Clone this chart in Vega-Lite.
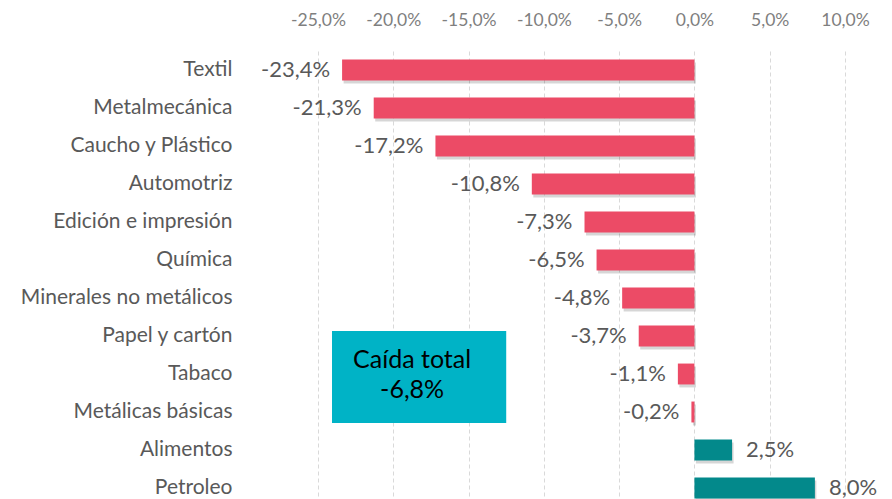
{
  "$schema": "https://vega.github.io/schema/vega-lite/v6.json",
  "width": 527,
  "height": 456,
  "autosize": {"type": "none"},
  "padding": {"left": 318, "top": 51, "right": 47, "bottom": 0},
  "background": "white",
  "config": {
    "locale": {"number": {"decimal": ",", "thousands": ".", "grouping": [3], "currency": ["", " €"], "minus": "-"}},
    "view": {"stroke": null},
    "font": "Lato"
  },
  "datasets": {
    "sectores": [
      {"sector": "Textil", "valor": -0.234},
      {"sector": "Metalmecánica", "valor": -0.213},
      {"sector": "Caucho y Plástico", "valor": -0.172},
      {"sector": "Automotriz", "valor": -0.108},
      {"sector": "Edición e impresión", "valor": -0.073},
      {"sector": "Química", "valor": -0.065},
      {"sector": "Minerales no metálicos", "valor": -0.048},
      {"sector": "Papel y cartón", "valor": -0.037},
      {"sector": "Tabaco", "valor": -0.011},
      {"sector": "Metálicas básicas", "valor": -0.002},
      {"sector": "Alimentos", "valor": 0.025},
      {"sector": "Petroleo", "valor": 0.08}
    ],
    "nota": [{"titulo": "Caída total", "total": -0.068}]
  },
  "layer": [
    {
      "data": {"name": "sectores"},
      "mark": {"type": "bar", "color": "#000000", "opacity": 0.16, "yOffset": 3, "xOffset": 1.5},
      "encoding": {
        "y": {
          "field": "sector", "type": "nominal", "sort": null,
          "scale": {"paddingInner": 0.45, "paddingOuter": 0.225},
          "axis": {"title": null, "domain": false, "ticks": false, "grid": false, "labelPadding": 86, "labelFontSize": 21, "labelLimit": 400, "labelColor": "#595959"}
        },
        "x": {
          "field": "valor", "type": "quantitative",
          "scale": {"domain": [-0.25, 0.1], "nice": false, "zero": false},
          "axis": {"orient": "top", "title": null, "format": ".1%", "values": [-0.25, -0.2, -0.15, -0.1, -0.05, 0, 0.05, 0.1], "labelOverlap": false, "labelFlush": false, "grid": true, "gridDash": [4, 3], "gridColor": "#d9d9d9", "domain": false, "ticks": false, "labelFontSize": 17.5, "labelColor": "#7f7f7f", "labelPadding": 22}
        }
      }
    },
    {
      "data": {"name": "sectores"},
      "mark": {"type": "bar"},
      "encoding": {
        "y": {"field": "sector", "type": "nominal", "sort": null},
        "x": {"field": "valor", "type": "quantitative"},
        "color": {"condition": {"test": "datum.valor < 0", "value": "#EC4B66"}, "value": "#03898B"}
      }
    },
    {
      "mark": {"type": "rule", "color": "#c8c8c8", "strokeWidth": 1},
      "encoding": {"x": {"datum": 0}}
    },
    {
      "data": {"name": "sectores"},
      "transform": [{"filter": "datum.valor < 0"}],
      "mark": {"type": "text", "align": "right", "baseline": "middle", "dx": -12, "fontSize": 22, "color": "#595959"},
      "encoding": {
        "y": {"field": "sector", "type": "nominal", "sort": null},
        "x": {"field": "valor", "type": "quantitative"},
        "text": {"field": "valor", "type": "quantitative", "format": ".1%"}
      }
    },
    {
      "data": {"name": "sectores"},
      "transform": [{"filter": "datum.valor >= 0"}],
      "mark": {"type": "text", "align": "left", "baseline": "middle", "dx": 14, "fontSize": 22, "color": "#595959"},
      "encoding": {
        "y": {"field": "sector", "type": "nominal", "sort": null},
        "x": {"field": "valor", "type": "quantitative"},
        "text": {"field": "valor", "type": "quantitative", "format": ".1%"}
      }
    },
    {
      "data": {"name": "nota"},
      "mark": {"type": "bar", "size": 92, "yOffset": 3, "color": "#00B3C6"},
      "encoding": {
        "y": {"datum": "Tabaco", "type": "nominal"},
        "x": {"datum": -0.2407},
        "x2": {"datum": -0.125}
      }
    },
    {
      "data": {"name": "nota"},
      "mark": {"type": "text", "align": "center", "baseline": "middle", "dy": -14, "fontSize": 25, "color": "#000000"},
      "encoding": {
        "y": {"datum": "Tabaco", "type": "nominal"},
        "x": {"datum": -0.1875},
        "text": {"field": "titulo", "type": "nominal"}
      }
    },
    {
      "data": {"name": "nota"},
      "mark": {"type": "text", "align": "center", "baseline": "middle", "dy": 16, "fontSize": 25, "color": "#000000"},
      "encoding": {
        "y": {"datum": "Tabaco", "type": "nominal"},
        "x": {"datum": -0.1875},
        "text": {"field": "total", "type": "quantitative", "format": ".1%"}
      }
    }
  ]
}
